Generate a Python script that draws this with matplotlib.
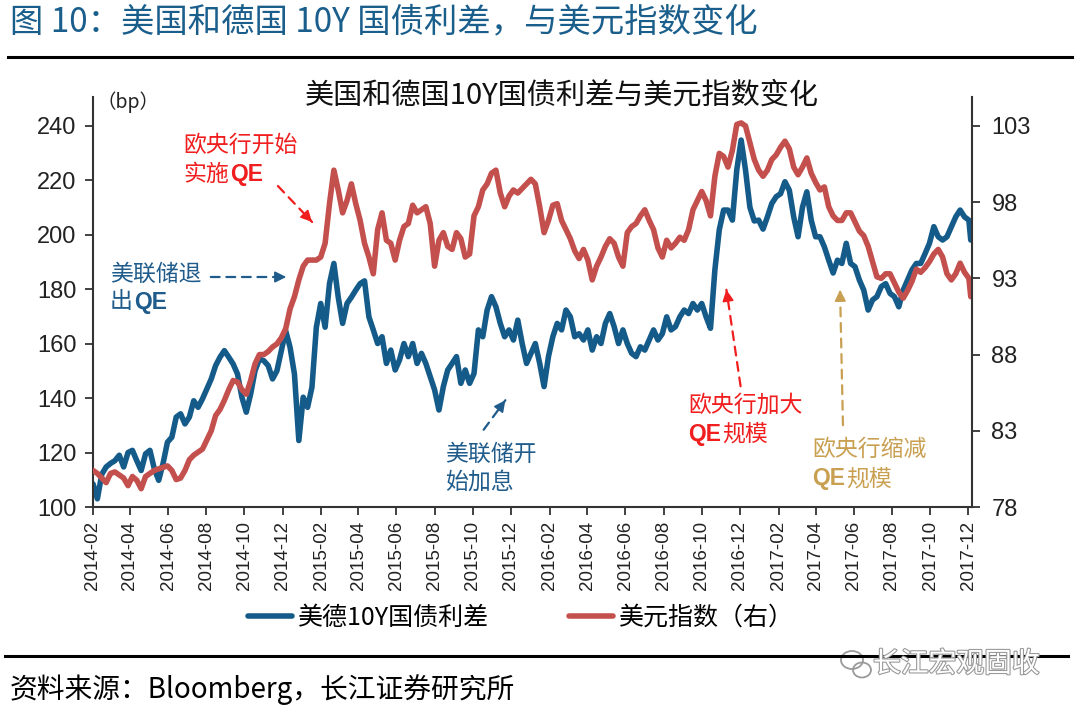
import matplotlib
matplotlib.use('Agg')
import matplotlib.pyplot as plt
import pandas as pd
from matplotlib.lines import Line2D
from matplotlib.patches import Ellipse, FancyArrowPatch
import matplotlib.patheffects as pe

CJK = 'Noto Sans CJK SC'
LAT = 'Liberation Sans'
plt.rcParams['font.family'] = [CJK, 'DejaVu Sans']

# ---------------- data (weekly readings) ----------------
dates = list(pd.date_range('2014-02-01', periods=201, freq='7D')) + [pd.Timestamp('2017-12-05')]

spread_bp = [108.5, 103, 112, 114.7, 116, 117, 119, 114.7, 120, 120.8,
             117, 113.4, 119.5, 120.8, 114, 109.8, 116, 123.8, 125.6, 133,
             134.2, 130.5, 133, 139, 136.6, 139.7, 143.3, 147, 151.9, 155,
             157.4, 155, 152.5, 148.8, 140.3, 134.8, 141.5, 150, 154.3, 153.7,
             151.9, 147, 150, 157.4, 164.7, 158.6, 148.8, 124.4, 140.3, 136.6,
             144, 166, 174.7, 166, 182, 189.4, 177, 167.4, 174.7, 177,
             179.6, 182, 183, 169.8, 165, 160, 162.5, 152.7, 157.6, 150.3,
             154, 160, 155.2, 160, 152.7, 156.4, 152.7, 147.8, 143, 135.6,
             144.2, 150.3, 152.7, 155.2, 145.4, 150.3, 145.4, 149, 165, 162.5,
             172.3, 177.2, 173.5, 167.4, 162.5, 165, 161.3, 168.6, 160, 152.7,
             156.4, 160, 152.7, 144.2, 155.2, 162.5, 167.4, 165, 172.3, 169.8,
             162.5, 163.6, 161.3, 165, 157.6, 162.5, 160, 167.4, 171, 166.2,
             160, 165, 160, 156.4, 155.2, 158.8, 157.6, 161.3, 165, 161.3,
             163.6, 169.8, 165, 166.2, 169.8, 172.3, 171, 174.7, 172.3, 174.7,
             169.8, 165.6, 187, 201.7, 209, 209, 205.3, 223.7, 234.7, 223.7,
             210, 205, 205.3, 202, 206.5, 211.4, 213.9, 215, 219.4, 216.3,
             206.5, 199.2, 210, 215.7, 205.3, 199.2, 199.2, 195.5, 190.6, 185.9,
             190.6, 189.4, 196.8, 189.4, 188.2, 183.3, 179.6, 172.3, 176, 177.2,
             180.9, 182, 178.4, 177.2, 173.5, 179.6, 183.3, 187, 189.4, 189.4,
             193, 196.8, 202.9, 199.2, 198, 199.2, 202.9, 206.5, 209, 206.5,
             205.3, 198]

dxy = [80.4, 80.2, 79.9, 79.6, 80.2, 80.3, 80.1, 79.9, 79.4, 80.0,
       79.75, 79.2, 80.0, 80.2, 80.4, 80.5, 80.6, 80.7, 80.4, 79.8,
       79.9, 80.4, 81.1, 81.4, 81.6, 81.8, 82.4, 83.0, 84.0, 84.4,
       85.0, 85.7, 86.3, 86.2, 85.7, 85.4, 86.3, 87.4, 88.0, 88.0,
       88.2, 88.5, 88.7, 89.1, 89.7, 91.0, 91.8, 92.9, 93.8, 94.2,
       94.2, 94.2, 94.4, 95.3, 97.9, 100.1, 98.8, 97.3, 98.1, 99.2,
       97.9, 96.8, 95.3, 94.4, 93.3, 96.2, 97.3, 95.5, 95.3, 94.2,
       95.5, 96.4, 96.6, 97.8, 97.3, 97.5, 97.7, 96.6, 93.8, 95.5,
       96.0, 95.1, 94.9, 96.0, 95.6, 94.4, 94.6, 97.1, 97.7, 98.8,
       99.2, 99.9, 100.1, 98.6, 97.7, 98.4, 98.8, 98.6, 98.9, 99.2,
       99.5, 99.2, 97.7, 96.0, 96.8, 97.8, 97.9, 96.8, 96.2, 95.6,
       94.8, 94.3, 94.9, 94.2, 92.9, 93.8, 94.4, 95.1, 95.6, 95.3,
       94.4, 93.8, 96.0, 96.4, 96.6, 97.1, 97.5, 96.8, 96.2, 95.0,
       94.4, 95.5, 95.0, 95.3, 95.7, 95.5, 96.2, 97.5, 98.1, 98.7,
       98.1, 97.1, 99.7, 101.2, 101.0, 100.3, 101.4, 103.1, 103.2, 103.0,
       101.9, 100.8, 100.1, 99.7, 100.1, 100.8, 101.1, 101.6, 102.0, 101.5,
       100.3, 99.8, 100.3, 100.9, 99.9, 99.3, 98.8, 99.0, 97.7, 97.1,
       96.8, 96.8, 97.3, 97.3, 96.7, 96.1, 95.8, 95.1, 94.1, 93.1,
       93.0, 93.3, 93.3, 92.7, 92.1, 91.7, 92.2, 92.8, 93.6, 93.4,
       93.7, 94.1, 94.6, 94.9, 94.4, 93.3, 92.9, 93.3, 94.0, 93.4,
       93.0, 91.8]

left_ticks = [100, 120, 140, 160, 180, 200, 220, 240]
right_ticks = [78, 83, 88, 93, 98, 103]
xtick_dates = list(pd.date_range('2014-02-01', '2017-12-01', freq='2MS'))
xtick_labels = [d.strftime('%Y-%m') for d in xtick_dates]

series_names = ['美德10Y国债利差', '美元指数（右）']

# ---------------- style ----------------
BLUE = '#155B8A'
RED = '#C4504E'
HEAD = '#1A5E8C'
ANN_RED = '#F01E1E'
ANN_BLUE = '#1F5C8B'
ANN_GOLD = '#C9A052'
SPINE = '#333333'

W, H = 1080, 715
fig = plt.figure(figsize=(W / 100, H / 100), dpi=100)
fig.patch.set_facecolor('white')


def fx(px):
    return px / W


def fy(py):
    return 1 - py / H


ax = fig.add_axes([fx(93), fy(507), fx(972) - fx(93), fy(97) - fy(507)])
ax2 = ax.twinx()

l1, = ax.plot(dates, spread_bp, color=BLUE, lw=4, solid_joinstyle='round', solid_capstyle='round')
l2, = ax2.plot(dates, dxy, color=RED, lw=4, solid_joinstyle='round', solid_capstyle='round')

ax.set_ylim(100, 250.5)
ax2.set_ylim(78, 104.9)
ax.set_yticks(left_ticks)
ax2.set_yticks(right_ticks)
ax.set_xlim(pd.Timestamp('2014-02-01'), pd.Timestamp('2017-12-07'))
ax.set_xticks(xtick_dates)
ax.set_xticklabels(xtick_labels, rotation=90, fontsize=13.5, family=LAT, color='#222222')
for lab in ax.get_yticklabels():
    lab.set_family(LAT); lab.set_fontsize(17); lab.set_color('#222222')
for lab in ax2.get_yticklabels():
    lab.set_family(LAT); lab.set_fontsize(17); lab.set_color('#222222')

for a in (ax, ax2):
    a.spines['top'].set_visible(False)
    for s in a.spines.values():
        s.set_color(SPINE)
        s.set_linewidth(1.5)
ax.spines['right'].set_visible(False)
ax2.spines['left'].set_visible(False)
ax2.spines['bottom'].set_visible(False)
ax.tick_params(axis='both', direction='out', length=6, width=1.3, color=SPINE)
ax.tick_params(axis='y', pad=6)
ax.tick_params(axis='x', pad=4)
ax2.tick_params(axis='y', direction='out', length=6, width=1.3, color=SPINE, pad=8)
ax.set_facecolor('none')

# legend
fig.legend([l1, l2], series_names, loc='center', bbox_to_anchor=(fx(521), fy(618)), ncol=2,
           frameon=False, fontsize=18, handlelength=1.75, handletextpad=0.25, columnspacing=3.2)

# titles and text
fig.text(fx(10), fy(22), '图 10：美国和德国 10Y 国债利差，与美元指数变化', fontsize=24,
         color=HEAD, va='center', ha='left')
fig.add_artist(Line2D([fx(8), fx(1072)], [fy(57), fy(57)], color='black', lw=2.2))
fig.text(fx(562), fy(96), '美国和德国10Y国债利差与美元指数变化', ha='center', va='center',
         fontsize=21, color='#111111')
fig.text(fx(96), fy(102), '（bp）', fontsize=14, va='center', ha='left', color='#222222')
fig.add_artist(Line2D([fx(5), fx(1068)], [fy(656), fy(656)], color='black', lw=2.2))
fig.text(fx(10), fy(690), '资料来源：Bloomberg，长江证券研究所', fontsize=20, va='center', ha='left')

# watermark
fig.text(fx(873), fy(664), '长江宏观固收', fontsize=20, va='center', ha='left', color='white',
         path_effects=[pe.withStroke(linewidth=1.6, foreground='#9a9a9a')])
fig.add_artist(Ellipse((fx(852), fy(660)), fx(22), 18 / H, fill=False, ec='#9a9a9a', lw=1.3,
                       transform=fig.transFigure))
fig.add_artist(Ellipse((fx(862), fy(670)), fx(18), 15 / H, fill=False, ec='#9a9a9a', lw=1.3,
                       transform=fig.transFigure))

renderer = fig.canvas.get_renderer()
ANN_SIZE = 16.5


def rich_line(x_px, y_px, pieces, color):
    x = x_px
    base = y_px + 8.5
    for txt, bold in pieces:
        t = fig.text(fx(x), fy(base), txt, color=color, fontsize=ANN_SIZE,
                     fontweight='bold' if bold else 'normal',
                     family=[LAT] if bold else [CJK, 'DejaVu Sans'],
                     va='baseline', ha='left')
        bb = t.get_window_extent(renderer)
        x = bb.x1 + 1


def arrow(x0, y0, x1, y1, color):
    fig.add_artist(FancyArrowPatch(
        (fx(x0), fy(y0)), (fx(x1), fy(y1)), transform=fig.transFigure,
        arrowstyle='-', linestyle=(0, (4, 3)), color=color, lw=1.6))
    dx, dy = x1 - x0, y1 - y0
    n = (dx * dx + dy * dy) ** 0.5
    fig.add_artist(FancyArrowPatch(
        (fx(x1 - dx / n * 14), fy(y1 - dy / n * 14)), (fx(x1), fy(y1)), transform=fig.transFigure,
        arrowstyle='-|>', mutation_scale=17, color=color, lw=1.2))


rich_line(183, 143, [('欧央行开始', False)], ANN_RED)
rich_line(183, 172, [('实施', False), ('QE', True)], ANN_RED)
arrow(276, 184, 314, 224, ANN_RED)

rich_line(110, 272, [('美联储退', False)], ANN_BLUE)
rich_line(110, 300, [('出', False), ('QE', True)], ANN_BLUE)
arrow(208, 277, 289, 277, ANN_BLUE)

rich_line(445, 452, [('美联储开', False)], ANN_BLUE)
rich_line(445, 480, [('始加息', False)], ANN_BLUE)
arrow(482, 432, 507, 398, ANN_BLUE)

rich_line(688, 403, [('欧央行加大', False)], ANN_RED)
rich_line(688, 432, [('QE', True), ('规模', False)], ANN_RED)
arrow(741, 389, 726, 287, ANN_RED)

rich_line(812, 447, [('欧央行缩减', False)], ANN_GOLD)
rich_line(812, 477, [('QE', True), ('规模', False)], ANN_GOLD)
arrow(843, 428, 840, 287, ANN_GOLD)

fig.savefig('out.png', dpi=100, facecolor='white')
